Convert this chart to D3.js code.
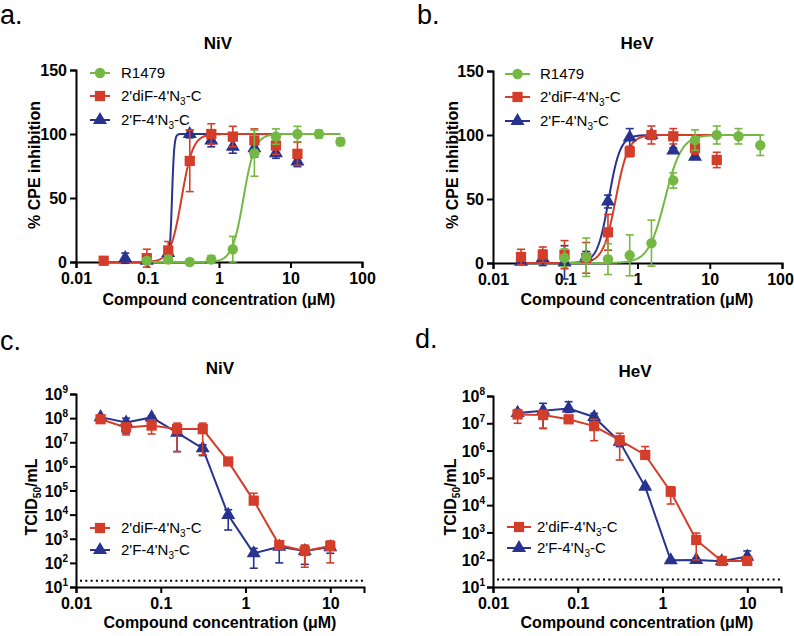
<!DOCTYPE html>
<html>
<head>
<meta charset="utf-8">
<script src="https://cdn.jsdelivr.net/npm/d3@7"></script>
<style>
body { margin: 0; background: #fff; }
svg { font-family: "Liberation Sans", Arial, sans-serif; }
.axis path, .axis line { stroke: #000; stroke-width: 2px; }
.axis text { font-size: 16px; font-weight: bold; fill: #000; }
.ptitle { font-size: 17px; font-weight: bold; }
.atitle { font-size: 16px; font-weight: bold; }
.plabel { font-size: 27px; }
.legend text { font-size: 15px; }
</style>
</head>
<body>
<div id="fig"></div>
<script>
// concentrations (uM)
var cpeConc = [0.0244, 0.0488, 0.0977, 0.195, 0.39, 0.78, 1.56, 3.125, 6.25, 12.5, 25, 50];
var titerConc = [0.0195, 0.039, 0.078, 0.156, 0.3125, 0.625, 1.25, 2.5, 5, 10];

// % CPE inhibition, NiV (panel a)
var niv_r1479 = [null, null, 1, 2, 0, 2, 10, 85, 98, 100, 100, 94];
var niv_r1479_sd = [null, null, 2, 3, 2, 3, 10, 18, 6, 6, 3, 3];
var niv_diF = [1, null, 3, 9, 79, 100, 98, 95, 91, 84.5, null, null];
var niv_diF_sd = [3, null, 7, 7, 24, 8, 8, 9, 7, 9, null, null];
var niv_F = [null, 3, 1, 7, 100, 95, 90, 89, 85, 78.5, null, null];
var niv_F_sd = [null, 4, 2, 5, 3, 5, 5, 7, 4, 4, null, null];

// % CPE inhibition, HeV (panel b)
var hev_r1479 = [null, null, 4, 4.5, 3, 6, 15.5, 64.5, 96, 100, 99, 92];
var hev_r1479_sd = [null, null, 7, 15, 12, 16, 18, 6, 8, 7, 6, 8];
var hev_diF = [4.7, 6.5, 6.5, 4, 24, 87, 100, 99, 90, 80.5, null, null];
var hev_diF_sd = [6, 6, 11, 12, 14, 4, 7, 6, 5, 6, null, null];
var hev_F = [1, 4, 0.5, 5, 48, 98, 100, 88, 83, null, null, null];
var hev_F_sd = [2, 6, 13, 4, 5, 7, 3, 2, 2, null, null, null];

// fitted dose-response curves: [IC50, hill, from, to]
var niv_fits = [[2.2, 5.5, 0.0977, 50], [0.3, 5.5, 0.0244, 12.5], [0.22, 28, 0.0488, 12.5]];
var hev_fits = [[2.4, 3.8, 0.0977, 50], [0.5, 5, 0.0244, 12.5], [0.4, 5.5, 0.0244, 6.25]];

// virus titers TCID50/mL, NiV (panel c)
var nivT_diF = [9e7, 4.1e7, 4.9e7, 3.5e7, 3.5e7, 1.6e6, 3.8e4, 550, 310, 500];
var nivT_diF_hi = [1.05e8, 6.2e7, 8.5e7, 6.2e7, 6.2e7, 2.0e6, 7.7e4, 700, 550, 810];
var nivT_diF_lo = [8e7, 2.0e7, 2.2e7, 4.1e6, 3.0e6, 1.3e6, 3.0e4, 420, 66, 100];
var nivT_F = [1.1e8, 6.6e7, 1.07e8, 2.5e7, 5.6e6, 9.7e3, 250, 470, 310, 450];
var nivT_F_hi = [1.2e8, 1.0e8, 1.2e8, 3.2e7, 7.8e6, 1.6e4, 400, 760, 500, 550];
var nivT_F_lo = [1.0e8, 2.4e7, 9e7, 4.1e6, 2.8e6, 2.3e3, 60, 100, 87, 250];

// virus titers TCID50/mL, HeV (panel d)
var hevT_diF = [2.1e7, 2.0e7, 1.4e7, 7.9e6, 2.4e6, 6.9e5, 3.1e4, 530, 90, 90];
var hevT_diF_hi = [3.2e7, 3.0e7, 1.6e7, 1.4e7, 4.3e6, 1.4e6, 4.7e4, 950, 100, 100];
var hevT_diF_lo = [1.0e7, 6.5e6, 1.2e7, 2.3e6, 4.5e5, 5.5e5, 1.1e4, 98, 85, 85];
var hevT_F = [2.4e7, 2.9e7, 3.5e7, 1.7e7, 2.1e6, 4.7e4, 95, 98, 88, 130];
var hevT_F_hi = [2.8e7, 5.4e7, 6.2e7, 2.3e7, 2.4e6, 5e4, 100, 110, 95, 210];
var hevT_F_lo = [2.0e7, 6.5e6, 2.5e7, 1.3e7, 1.4e6, 4.4e4, 90, 85, 82, 100];

// detection limits
var nivLOD = 18, hevLOD = 19;

var cpeTicks = [0.01, 0.1, 1, 10, 100];
var titerTicks = [0.01, 0.1, 1, 10];
var pctTicks = [0, 50, 100, 150];

var names = [["R1479"], ["2'diF-4'N", "3", "-C"], ["2'F-4'N", "3", "-C"]];
var colors = ["#74b843", "#d43d29", "#27338e"];
var shapes = [d3.symbolCircle, d3.symbolSquare, d3.symbolTriangle];
var sizes = [85, 105, 85];

var svg = d3.select("#fig").append("svg")
    .attr("width", 794)
    .attr("height", 636);

function addParts(sel, parts) {
    parts.forEach(function(p, i) {
        var t = sel.append("tspan").text(p);
        if (i == 1) t.attr("font-size", "10px").attr("dy", 4);
        if (i == 2) t.attr("dy", -4);
    });
}

function marker(g, idx, x, y) {
    g.append("path")
        .attr("d", d3.symbol().type(shapes[idx]).size(sizes[idx])())
        .attr("transform", "translate(" + x + "," + y + ")")
        .attr("fill", colors[idx]);
}

function errBar(g, idx, x, y1, y2) {
    var c = colors[idx];
    g.append("line").attr("x1", x).attr("x2", x).attr("y1", y1).attr("y2", y2)
        .attr("stroke", c).attr("stroke-width", 1.6);
    [y1, y2].forEach(function(yy) {
        g.append("line").attr("x1", x - 4).attr("x2", x + 4).attr("y1", yy).attr("y2", yy)
            .attr("stroke", c).attr("stroke-width", 1.6);
    });
}

function legend(opt, series) {
    var g = svg.append("g").attr("class", "legend");
    series.forEach(function(s, i) {
        var y = opt.legY[i];
        g.append("line").attr("x1", opt.legX[0]).attr("x2", opt.legX[1])
            .attr("y1", y).attr("y2", y)
            .attr("stroke", colors[s]).attr("stroke-width", 2);
        marker(g, s, (opt.legX[0] + opt.legX[1]) / 2, y);
        addParts(g.append("text").attr("x", opt.legX[2]).attr("y", y).attr("dy", "0.35em"), names[s]);
    });
}

function frame(opt, x, y, xTicks) {
    var xa = svg.append("g")
        .attr("class", "axis")
        .attr("transform", "translate(0," + opt.y0 + ")")
        .call(d3.axisBottom(x).tickValues(xTicks).tickSize(6).tickPadding(5)
            .tickFormat(function(d) { return String(d); }));
    // keep the last label inside the page edge
    if (opt.lastShift) xa.select(".tick:last-of-type text").attr("x", opt.lastShift);

    svg.append("text").attr("class", "plabel")
        .attr("x", opt.label[1]).attr("y", opt.label[2]).text(opt.label[0]);
    svg.append("text").attr("class", "ptitle")
        .attr("x", opt.title[1]).attr("y", opt.title[2])
        .attr("text-anchor", "middle").text(opt.title[0]);
    svg.append("text").attr("class", "atitle")
        .attr("x", opt.xTitle[0]).attr("y", opt.xTitle[1])
        .attr("text-anchor", "middle").text("Compound concentration (\u03bcM)");
}

/* Dose-response panels (a, b) */
function cpePanel(opt, vals, sds, fits) {
    var x = d3.scaleLog().domain([0.01, 100]).range(opt.xr);
    var y = d3.scaleLinear().domain([0, 150]).range([opt.y0, opt.y1]);

    frame(opt, x, y, cpeTicks);
    svg.append("g")
        .attr("class", "axis")
        .attr("transform", "translate(" + opt.xr[0] + ",0)")
        .call(d3.axisLeft(y).tickValues(pctTicks).tickSize(6).tickPadding(3));

    svg.append("text").attr("class", "atitle")
        .attr("transform", "translate(" + opt.yTitle[0] + "," + opt.yTitle[1] + ") rotate(-90)")
        .attr("text-anchor", "middle").attr("dy", "0.35em")
        .text("% CPE inhibition");

    var line = d3.line().x(function(d) { return x(d[0]); }).y(function(d) { return y(d[1]); });
    var order = [2, 1, 0];
    order.forEach(function(s) {
        var f = fits[s];
        var pts = d3.range(0, 301).map(function(i) {
            var c = f[2] * Math.pow(f[3] / f[2], i / 300);
            return [c, 100 / (1 + Math.pow(f[0] / c, f[1]))];
        });
        svg.append("path").datum(pts)
            .attr("d", line).attr("fill", "none")
            .attr("stroke", colors[s]).attr("stroke-width", 2);
    });
    order.forEach(function(s) {
        var g = svg.append("g");
        cpeConc.forEach(function(c, i) {
            var v = vals[s][i];
            if (v == null) return;
            errBar(g, s, x(c), y(v - sds[s][i]), y(v + sds[s][i]));
        });
        cpeConc.forEach(function(c, i) {
            var v = vals[s][i];
            if (v == null) return;
            marker(g, s, x(c), y(v));
        });
    });
    legend(opt, [0, 1, 2]);
}

/* Virus titer panels (c, d) */
function titerPanel(opt, vals, his, los, lod) {
    var x = d3.scaleLog().domain([0.01, 25]).range(opt.xr);
    var y = d3.scaleLog().domain([10, opt.yMax]).range([opt.y0, opt.y1]);

    svg.append("line")
        .attr("x1", opt.xr[0] + 4).attr("x2", opt.xr[1])
        .attr("y1", y(lod)).attr("y2", y(lod))
        .attr("stroke", "#000").attr("stroke-width", 2)
        .attr("stroke-dasharray", "2,3.3");

    frame(opt, x, y, titerTicks);
    var powers = d3.range(1, Math.round(Math.log10(opt.yMax)) + 1).map(function(p) { return Math.pow(10, p); });
    var ya = svg.append("g")
        .attr("class", "axis")
        .attr("transform", "translate(" + opt.xr[0] + ",0)")
        .call(d3.axisLeft(y).tickValues(powers).tickSize(6).tickFormat(""));
    ya.selectAll(".tick").append("text")
        .attr("x", -8).attr("dy", "0.35em").attr("text-anchor", "end")
        .each(function(d) {
            var t = d3.select(this);
            t.append("tspan").text("10");
            t.append("tspan").attr("font-size", "10px").attr("dy", -7)
                .text(Math.round(Math.log10(d)));
        });

    var yt = svg.append("text").attr("class", "atitle")
        .attr("transform", "translate(" + opt.yTitle[0] + "," + opt.yTitle[1] + ") rotate(-90)")
        .attr("text-anchor", "middle").attr("dy", "0.35em");
    yt.append("tspan").text("TCID");
    yt.append("tspan").attr("font-size", "10px").attr("dy", 4).text("50");
    yt.append("tspan").attr("dy", -4).text("/mL");

    var line = d3.line().x(function(d, i) { return x(titerConc[i]); }).y(function(d) { return y(d); });
    [2, 1].forEach(function(s) {
        var k = s - 1;
        var g = svg.append("g");
        g.append("path").datum(vals[k])
            .attr("d", line).attr("fill", "none")
            .attr("stroke", colors[s]).attr("stroke-width", 2);
        titerConc.forEach(function(c, i) {
            errBar(g, s, x(c), y(los[k][i]), y(his[k][i]));
        });
        titerConc.forEach(function(c, i) {
            marker(g, s, x(c), y(vals[k][i]));
        });
    });
    legend(opt, [1, 2]);
}

cpePanel({
    xr: [76, 362], y0: 262, y1: 70,
    label: ["a.", 0, 24], title: ["NiV", 218, 49],
    xTitle: [219, 305], yTitle: [34, 165],
    legX: [90, 110, 121], legY: [73, 96, 120]
}, [niv_r1479, niv_diF, niv_F], [niv_r1479_sd, niv_diF_sd, niv_F_sd], niv_fits);

cpePanel({
    xr: [493, 782], y0: 263, y1: 71,
    label: ["b.", 417, 24], title: ["HeV", 637, 49],
    xTitle: [637, 305], yTitle: [452, 165],
    legX: [505, 530, 540], legY: [74, 97, 121],
    lastShift: -2
}, [hev_r1479, hev_diF, hev_F], [hev_r1479_sd, hev_diF_sd, hev_F_sd], hev_fits);

titerPanel({
    xr: [76, 364], y0: 587, y1: 394, yMax: 1e9,
    label: ["c.", 0, 350], title: ["NiV", 220, 374],
    xTitle: [220, 628], yTitle: [31, 497],
    legX: [90, 110, 121], legY: [528, 550]
}, [nivT_diF, nivT_F], [nivT_diF_hi, nivT_F_hi], [nivT_diF_lo, nivT_F_lo], nivLOD);

titerPanel({
    xr: [493, 781], y0: 587, y1: 396, yMax: 1e8,
    label: ["d.", 415, 348], title: ["HeV", 635, 377],
    xTitle: [637, 628], yTitle: [450, 497],
    legX: [507, 531, 537], legY: [527, 548]
}, [hevT_diF, hevT_F], [hevT_diF_hi, hevT_F_hi], [hevT_diF_lo, hevT_F_lo], hevLOD);
</script>
</body>
</html>
